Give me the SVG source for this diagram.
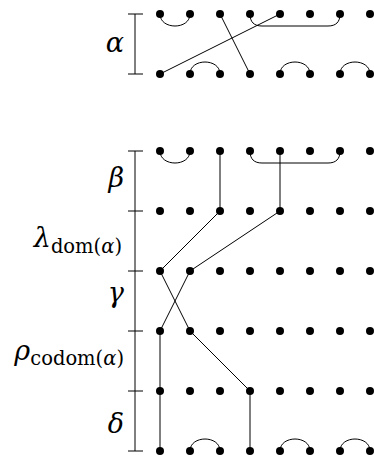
<svg xmlns="http://www.w3.org/2000/svg" width="374" height="459" viewBox="0 0 374 459">
<style>
.dot{fill:#000}
.ln{fill:none;stroke:#000;stroke-width:1}
.br{fill:none;stroke:#000;stroke-width:1}
text{font-family:'DejaVu Serif','Liberation Serif',serif;fill:#000}
.lbl{font-style:italic;font-size:27px}
.sub{font-style:normal;font-size:19.5px}
.subi{font-style:italic;font-size:19.5px}
</style>
<rect width="374" height="459" fill="#fff"/>
<g id="labels">
<text class="lbl" x="124" y="52" text-anchor="end">α</text>
<text class="lbl" x="124" y="187" text-anchor="end">β</text>
<text class="lbl" x="122" y="247" text-anchor="end">λ<tspan class="sub" dy="6">dom(</tspan><tspan class="subi">α</tspan><tspan class="sub">)</tspan></text>
<text class="lbl" x="124" y="302" text-anchor="end">γ</text>
<text class="lbl" x="124" y="360" text-anchor="end">ρ<tspan class="sub" dy="5">codom(</tspan><tspan class="subi">α</tspan><tspan class="sub">)</tspan></text>
<text class="lbl" x="124" y="433" text-anchor="end">δ</text>
</g>
<g id="brackets">
<path class="br" d="M135,14V74M128,14H143M128,74H143"/>
<path class="br" d="M135,151V451M128,151H143M128,211H143M128,271H143M128,331H143M128,391H143M128,451H143"/>
</g>
<g id="connectors">
<path class="ln" d="M160,14C160,30 190,30 190,14"/>
<path class="ln" d="M220,14L250,74"/>
<path class="ln" d="M250,14C250,22 254,26 262,26H328C336,26 340,22 340,14"/>
<path class="ln" d="M280,14L160,74"/>
<path class="ln" d="M190,74C190,58 220,58 220,74"/>
<path class="ln" d="M280,74C280,58 310,58 310,74"/>
<path class="ln" d="M340,74C340,58 370,58 370,74"/>
<path class="ln" d="M160,151C160,167 190,167 190,151"/>
<path class="ln" d="M220,151V211"/>
<path class="ln" d="M250,151C250,159 254,163 262,163H328C336,163 340,159 340,151"/>
<path class="ln" d="M280,151V211"/>
<path class="ln" d="M220,211L160,271"/>
<path class="ln" d="M280,211L190,271"/>
<path class="ln" d="M160,271L190,331"/>
<path class="ln" d="M190,271L160,331"/>
<path class="ln" d="M160,331V451"/>
<path class="ln" d="M190,331L250,391"/>
<path class="ln" d="M250,391V451"/>
<path class="ln" d="M190,451C190,435 220,435 220,451"/>
<path class="ln" d="M280,451C280,435 310,435 310,451"/>
<path class="ln" d="M340,451C340,435 370,435 370,451"/>
</g>
<g id="row-alpha-top"><circle class="dot" cx="160" cy="14" r="4"/><circle class="dot" cx="190" cy="14" r="4"/><circle class="dot" cx="220" cy="14" r="4"/><circle class="dot" cx="250" cy="14" r="4"/><circle class="dot" cx="280" cy="14" r="4"/><circle class="dot" cx="310" cy="14" r="4"/><circle class="dot" cx="340" cy="14" r="4"/><circle class="dot" cx="370" cy="14" r="4"/></g>
<g id="row-alpha-bottom"><circle class="dot" cx="160" cy="74" r="4"/><circle class="dot" cx="190" cy="74" r="4"/><circle class="dot" cx="220" cy="74" r="4"/><circle class="dot" cx="250" cy="74" r="4"/><circle class="dot" cx="280" cy="74" r="4"/><circle class="dot" cx="310" cy="74" r="4"/><circle class="dot" cx="340" cy="74" r="4"/><circle class="dot" cx="370" cy="74" r="4"/></g>
<g id="row-1"><circle class="dot" cx="160" cy="151" r="4"/><circle class="dot" cx="190" cy="151" r="4"/><circle class="dot" cx="220" cy="151" r="4"/><circle class="dot" cx="250" cy="151" r="4"/><circle class="dot" cx="280" cy="151" r="4"/><circle class="dot" cx="310" cy="151" r="4"/><circle class="dot" cx="340" cy="151" r="4"/><circle class="dot" cx="370" cy="151" r="4"/></g>
<g id="row-2"><circle class="dot" cx="160" cy="211" r="4"/><circle class="dot" cx="190" cy="211" r="4"/><circle class="dot" cx="220" cy="211" r="4"/><circle class="dot" cx="250" cy="211" r="4"/><circle class="dot" cx="280" cy="211" r="4"/><circle class="dot" cx="310" cy="211" r="4"/><circle class="dot" cx="340" cy="211" r="4"/><circle class="dot" cx="370" cy="211" r="4"/></g>
<g id="row-3"><circle class="dot" cx="160" cy="271" r="4"/><circle class="dot" cx="190" cy="271" r="4"/><circle class="dot" cx="220" cy="271" r="4"/><circle class="dot" cx="250" cy="271" r="4"/><circle class="dot" cx="280" cy="271" r="4"/><circle class="dot" cx="310" cy="271" r="4"/><circle class="dot" cx="340" cy="271" r="4"/><circle class="dot" cx="370" cy="271" r="4"/></g>
<g id="row-4"><circle class="dot" cx="160" cy="331" r="4"/><circle class="dot" cx="190" cy="331" r="4"/><circle class="dot" cx="220" cy="331" r="4"/><circle class="dot" cx="250" cy="331" r="4"/><circle class="dot" cx="280" cy="331" r="4"/><circle class="dot" cx="310" cy="331" r="4"/><circle class="dot" cx="340" cy="331" r="4"/><circle class="dot" cx="370" cy="331" r="4"/></g>
<g id="row-5"><circle class="dot" cx="160" cy="391" r="4"/><circle class="dot" cx="190" cy="391" r="4"/><circle class="dot" cx="220" cy="391" r="4"/><circle class="dot" cx="250" cy="391" r="4"/><circle class="dot" cx="280" cy="391" r="4"/><circle class="dot" cx="310" cy="391" r="4"/><circle class="dot" cx="340" cy="391" r="4"/><circle class="dot" cx="370" cy="391" r="4"/></g>
<g id="row-6"><circle class="dot" cx="160" cy="451" r="4"/><circle class="dot" cx="190" cy="451" r="4"/><circle class="dot" cx="220" cy="451" r="4"/><circle class="dot" cx="250" cy="451" r="4"/><circle class="dot" cx="280" cy="451" r="4"/><circle class="dot" cx="310" cy="451" r="4"/><circle class="dot" cx="340" cy="451" r="4"/><circle class="dot" cx="370" cy="451" r="4"/></g>
</svg>
